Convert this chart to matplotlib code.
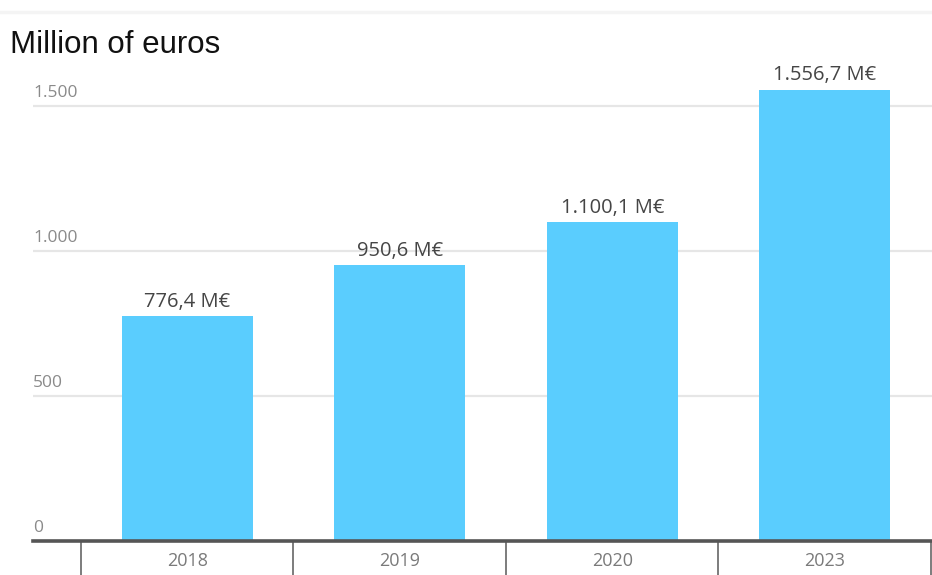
import matplotlib.pyplot as plt
import matplotlib.transforms as mtransforms
import numpy as np

years = ['2018', '2019', '2020', '2023']
values = [776.4, 950.6, 1100.1, 1556.7]
value_labels = ['776,4 M€', '950,6 M€', '1.100,1 M€', '1.556,7 M€']
yticks = [0, 500, 1000, 1500]
ytick_labels = ['0', '500', '1.000', '1.500']

bar_color = '#5ACDFE'
label_font = 'Open Sans'

fig = plt.figure(figsize=(9.32, 5.75), dpi=100)
ax = fig.add_axes([33 / 932, 34 / 575, 1 - 33 / 932, (541 - 60) / 575])

x = np.arange(len(years))
ax.bar(x, values, width=0.615, color=bar_color, zorder=3)

ax.set_xlim(-0.726, 3.505)
ax.set_ylim(0, (541 - 60) / 0.29)

# grid + baseline
ax.set_yticks(yticks)
ax.set_yticklabels([])
ax.tick_params(axis='y', length=0)
ax.grid(axis='y', color='#e6e6e6', linewidth=1.6, zorder=0)
ax.axhline(0, color='#555555', linewidth=2.6, zorder=4, clip_on=False)

trans = mtransforms.blended_transform_factory(ax.transAxes, ax.transData)
for v, lab in zip(yticks, ytick_labels):
    ax.text(0.0, v + 18, lab, transform=trans, ha='left', va='bottom',
            fontsize=12.5, color='#8a8a8a', family=label_font)

# value labels
for xi, v, lab in zip(x, values, value_labels):
    ax.annotate(lab, (xi, v), xytext=(0, 3), textcoords='offset points',
                ha='center', va='bottom', fontsize=14.5, color='#454545',
                family=label_font)

# x axis: category labels and dividers
ax.set_xticks(x)
ax.set_xticklabels(years, fontsize=13, color='#7a7a7a', family=label_font)
ax.set_xticks(np.arange(-0.5, len(years), 1.0), minor=True)
ax.tick_params(axis='x', which='major', length=0, pad=8)
ax.tick_params(axis='x', which='minor', length=25, width=1.2, color='#666666',
               direction='out')

for s in ax.spines.values():
    s.set_visible(False)

fig.text(10 / 932, 1 - 45 / 575, 'Million of euros', ha='left', va='center',
         fontsize=22.5, color='#111111', family='Liberation Sans')
fig.add_artist(plt.Line2D([0, 1], [1 - 12 / 575, 1 - 12 / 575],
                          color='#f4f4f4', linewidth=2.5))

fig.savefig('out.png', dpi=100, facecolor='white')
